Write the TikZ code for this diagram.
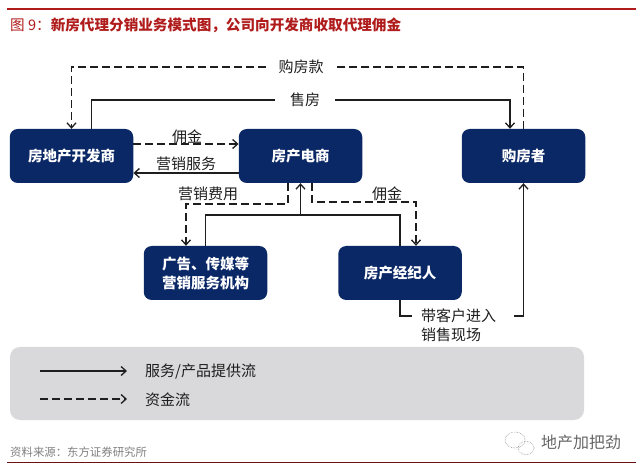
\documentclass[tikz,border=0pt]{standalone}
\usepackage{fontspec}
\setmainfont{Noto Sans CJK SC}
\usetikzlibrary{positioning,arrows.meta}
\definecolor{navy}{HTML}{0A2766}
\definecolor{ink}{HTML}{1E1E1E}
\definecolor{panel}{HTML}{D9D8DA}
\definecolor{headred}{HTML}{B01C1C}
\tikzset{
	party/.style={draw=none,fill=navy,text=white,rounded corners=8pt,minimum width=123.5pt,minimum height=54pt,inner sep=0pt,align=center,font=\fontsize{14.5}{19}\selectfont\bfseries},
	lbl/.style={text=ink,inner sep=0pt,font=\fontsize{15}{19}\selectfont},
	goods/.style={line width=1.5pt,draw=ink},
	cash/.style={line width=1.5pt,draw=ink,dash pattern=on 8pt off 4pt}
}
\begin{document}
\begin{tikzpicture}[x=1pt,y=-1pt,>={Straight Barb[length=5pt,width=9pt,line width=1.3pt]},node distance=229pt,on grid]
\useasboundingbox (0,0) rectangle (640,470);
% header and footer
\coordinate (h_l) at (7,9);
\coordinate (h_r) at (636,9);
\coordinate (f_l) at (7,462);
\coordinate (f_r) at (636,462);
\draw[line width=1.3pt,draw=headred] (h_l) -- (h_r);
\draw[line width=.7pt,draw=headred!60!black] (f_l) -- (f_r);
\node[anchor=west,inner sep=0pt,text=headred,font=\fontsize{14.6}{18}\selectfont] (title) at (10,25) {图 9：\textbf{新房代理分销业务模式图，公司向开发商收取代理佣金}};
\node[anchor=west,inner sep=0pt,text=black!50,font=\fontsize{11.4}{14}\selectfont] (source) at (10,452) {资料来源：东方证券研究所};
\node[anchor=west,inner sep=0pt,text=black!60,font=\fontsize{16}{20}\selectfont] (mark) at (541,442) {地产加把劲};
\draw[black!45,densely dotted,line width=.6pt] (515,440) ellipse (10pt and 8pt) (526,448) ellipse (8pt and 6.5pt);

% parties
\node[party]	(dev)								at (71.5,156)					{房地产开发商};
\node[party]	(ecom)								[right=of dev]					{房产电商};
\node[party]	(buyer)								[right=223pt of ecom]			{购房者};
\node[party]	(ad)								[below left=117pt and 95pt of ecom]		{广告、传媒等\\营销服务机构};
\node[party]	(broker)							[below right=117pt and 99.5pt of ecom]	{房产经纪人};

% labels
\node[lbl]		(l_pay)		[inner xsep=12pt]		at (301,67)						{购房款};
\node[lbl]		(l_sell)	[inner xsep=15pt]		at (305,100)					{售房};
\node[lbl]							at (187,137)					{佣金};
\node[lbl]							at (186,164)					{营销服务};
\node[lbl]							at (208,194)					{营销费用};
\node[lbl]							at (387,194)					{佣金};
\node[lbl,align=left,anchor=north west,inner xsep=9pt]	(l_go)		at (412,309)	{带客户进入\\销售现场};

% turning points
\coordinate (t_fee)		at (186,204);
\coordinate (t_com)		at (416,202);
\coordinate (t_join)	at (ecom.south |- 0,215);
\coordinate (t_out)		at (514,316);

% connectors
\draw[cash]			(buyer.north) |- (l_pay.east);
\draw[cash,->]		(l_pay.west) -| (dev.north);
\draw[goods]		([xshift=20]dev.north) |- (l_sell.west);
\draw[goods,->]		(l_sell.east) -| ([xshift=-13.5]buyer.north);
\draw[cash,->]		([yshift=12]dev.east) -- ([yshift=12]ecom.west);
\draw[goods,->]		([yshift=-17]ecom.west) -- ([yshift=-17]dev.east);
\draw[cash,->]		([xshift=-12.5]ecom.south) |- (t_fee) -- (t_fee |- ad.north);
\draw[cash,->]		([xshift=11.5]ecom.south) |- (t_com) -- (t_com |- broker.north);
\draw[goods]		(ad.north) |- (t_join);
\draw[goods]		(broker.north) |- (t_join);
\draw[goods,->]		(t_join) -- (ecom.south);
\draw[goods]		(broker.south) |- (412,316);
\draw[goods,->]		(t_out) -| (buyer.south);

% legend
\node[draw=none,fill=panel,rounded corners=10pt,minimum width=574pt,minimum height=73pt,inner sep=0pt] (panel) at (297,383.5) {};
\node[lbl,anchor=west]	(l_goods)	at (145,372)	{服务/产品提供流};
\node[lbl,anchor=west]	(l_cash)	at (145,400)	{资金流};
\coordinate (s_goods)	at (40,371);
\coordinate (s_cash)	at (40,399);
\draw[goods,->]		(s_goods) -- (s_goods -| 127,0);
\draw[cash,->]		(s_cash) -- (s_cash -| 127,0);
\end{tikzpicture}
\end{document}
